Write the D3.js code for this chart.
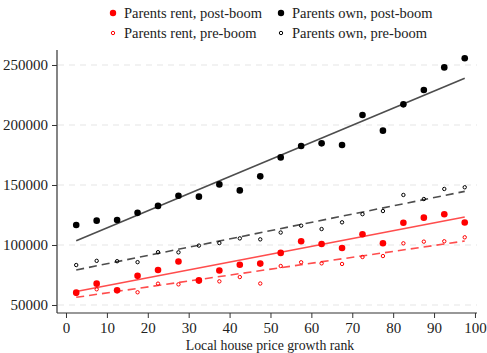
<!DOCTYPE html>
<html>
<head>
<meta charset="utf-8">
<script src="https://cdn.jsdelivr.net/npm/d3@7"></script>
<style>
  html, body { margin: 0; padding: 0; background: #fff; }
  svg { display: block; }
  text { font-family: "Liberation Serif", "Times New Roman", serif; fill: #222; }
</style>
</head>
<body>
<svg id="chart" width="487" height="353"></svg>
<script>
// House price growth rank bins (bin midpoints)
const ranks = [2.5, 7.5, 12.5, 17.5, 22.5, 27.5, 32.5, 37.5, 42.5, 47.5,
               52.5, 57.5, 62.5, 67.5, 72.5, 77.5, 82.5, 87.5, 92.5, 97.5];

const ownPost = [116700, 120300, 120800, 126800, 132600, 141000, 140300, 150500, 145500, 157200,
                 173000, 182500, 184700, 183300, 208300, 195300, 217200, 229200, 248000, 255600];
const ownPre  = [83300, 86800, 86500, 85700, 94000, 93900, 99500, 101600, 105500, 104700,
                 110400, 116100, 113300, 118900, 125700, 128300, 141700, 138300, 146700, 148100];
const rentPost = [60300, 67800, 62300, 74300, 79200, 86200, 70500, 78700, 83500, 84500,
                  93400, 103100, 100800, 97500, 108900, 101400, 118600, 122800, 125600, 118700];
const rentPre  = [59200, 63100, 61500, 60600, 67800, 67200, 69500, 69700, 73300, 67900,
                  82500, 85600, 84700, 84200, 90000, 90800, 101400, 102800, 103100, 106400];

// Fitted linear trends, evaluated at the first and last bin
const fitRanks = [2.5, 97.5];
const ownPostFit  = [103600, 238900];
const ownPreFit   = [79200, 144700];
const rentPostFit = [61300, 123300];
const rentPreFit  = [56400, 103300];

const yTicks = [50000, 100000, 150000, 200000, 250000];
const xTicks = [0, 10, 20, 30, 40, 50, 60, 70, 80, 90, 100];

const svg = d3.select("#chart");

const x = d3.scaleLinear().domain([-2.2, 100.5]).range([57, 477]);
const y = d3.scaleLinear().domain([43333, 262500]).range([313, 50]);

// Horizontal dashed gridlines
svg.append("g")
  .selectAll("line")
  .data(yTicks)
  .join("line")
  .attr("x1", 58).attr("x2", 477)
  .attr("y1", d => y(d)).attr("y2", d => y(d))
  .attr("stroke", "#e6e6e6")
  .attr("stroke-width", 1.2)
  .attr("stroke-dasharray", "6,5");

// Axes
const yAxis = svg.append("g")
  .attr("transform", `translate(${x.range()[0]},0)`)
  .call(d3.axisLeft(y).tickValues(yTicks).tickSize(5).tickPadding(4).tickFormat(d3.format("d")));
const xAxis = svg.append("g")
  .attr("transform", `translate(0,${y.range()[0]})`)
  .call(d3.axisBottom(x).tickValues(xTicks).tickSize(5).tickPadding(4));

[yAxis, xAxis].forEach(g => {
  g.select(".domain").attr("stroke", "#333").attr("stroke-width", 1.2);
  g.selectAll(".tick line").attr("stroke", "#333").attr("stroke-width", 1);
  g.selectAll(".tick text")
    .attr("font-family", "Liberation Serif, Times New Roman, serif")
    .attr("font-size", 15).attr("fill", "#222");
});
// Remove the outer end-tick caps of the domain path
yAxis.select(".domain").attr("d", `M0,${y.range()[0]}V${y.range()[1]}`);
xAxis.select(".domain").attr("d", `M${x.range()[0]},0H${x.range()[1]}`);

svg.append("text")
  .attr("x", 270).attr("y", 350)
  .attr("text-anchor", "middle")
  .attr("font-size", 13.8)
  .text("Local house price growth rank");

// Fit lines
const line = d3.line().x((d, i) => x(fitRanks[i])).y(d => y(d));
const fits = [
  { v: ownPostFit,  color: "#4d4d4d", dash: null },
  { v: ownPreFit,   color: "#4d4d4d", dash: "8,5" },
  { v: rentPostFit, color: "#ff4d4d", dash: null },
  { v: rentPreFit,  color: "#ff4d4d", dash: "8,5" }
];
svg.append("g").selectAll("path")
  .data(fits)
  .join("path")
  .attr("d", d => line(d.v))
  .attr("fill", "none")
  .attr("stroke", d => d.color)
  .attr("stroke-width", 1.6)
  .attr("stroke-dasharray", d => d.dash);

// Scatter points
const series = [
  { v: rentPre,  color: "#ff0000", filled: false },
  { v: ownPre,   color: "#000000", filled: false },
  { v: rentPost, color: "#ff0000", filled: true },
  { v: ownPost,  color: "#000000", filled: true }
];
series.forEach(s => {
  svg.append("g").selectAll("circle")
    .data(s.v)
    .join("circle")
    .attr("cx", (d, i) => x(ranks[i]))
    .attr("cy", d => y(d))
    .attr("r", s.filled ? 3.3 : 1.7)
    .attr("fill", s.filled ? s.color : "none")
    .attr("stroke", s.color)
    .attr("stroke-width", s.filled ? 0 : 1);
});

// Legend
const legendItems = [
  { label: "Parents rent, post-boom", color: "#ff0000", filled: true,  lx: 113, ly: 13 },
  { label: "Parents own, post-boom",  color: "#000000", filled: true,  lx: 281, ly: 13 },
  { label: "Parents rent, pre-boom",  color: "#ff0000", filled: false, lx: 113, ly: 33 },
  { label: "Parents own, pre-boom",   color: "#000000", filled: false, lx: 281, ly: 33 }
];
const lg = svg.append("g").selectAll("g").data(legendItems).join("g");
lg.append("circle")
  .attr("cx", d => d.lx).attr("cy", d => d.ly)
  .attr("r", d => d.filled ? 3.2 : 1.7)
  .attr("fill", d => d.filled ? d.color : "none")
  .attr("stroke", d => d.color)
  .attr("stroke-width", d => d.filled ? 0 : 1);
lg.append("text")
  .attr("x", d => d.lx + 11).attr("y", d => d.ly + 5)
  .attr("font-size", 14.5)
  .text(d => d.label);
</script>
</body>
</html>
